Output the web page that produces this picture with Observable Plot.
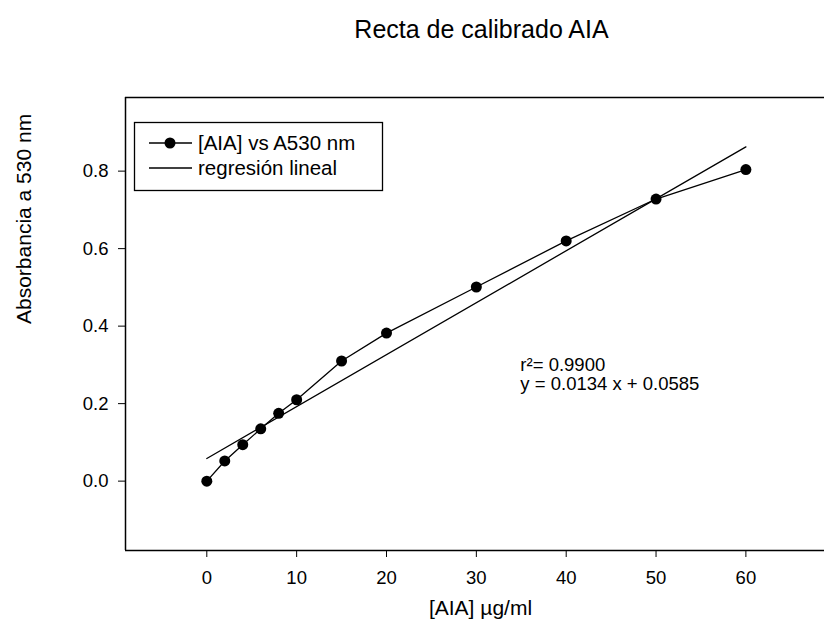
<!DOCTYPE html>
<html>
<head>
<meta charset="utf-8">
<script src="https://cdn.jsdelivr.net/npm/d3@7"></script>
<script src="https://cdn.jsdelivr.net/npm/@observablehq/plot@0.6"></script>
<style>
  html, body { margin: 0; padding: 0; background: white; }
  #chart { position: relative; width: 824px; height: 628px; }
</style>
</head>
<body>
<div id="chart"></div>
<script>
// ---- data ----
const concentration = [0, 2, 4, 6, 8, 10, 15, 20, 30, 40, 50, 60];
const absorbance = [0.0, 0.052, 0.094, 0.135, 0.175, 0.21, 0.31, 0.382, 0.501, 0.62, 0.728, 0.804];
const regX = [0, 60];
const regY = [0.0585, 0.8625];
const xTicks = [0, 10, 20, 30, 40, 50, 60];
const yTicks = [0.0, 0.2, 0.4, 0.6, 0.8];
const xDomain = [-9.05, 68.75];
const yDomain = [-0.179, 0.99];
const titleText = "Recta de calibrado AIA";
const xLabel = "[AIA] µg/ml";
const yLabel = "Absorbancia a 530 nm";
const legendLabels = ["[AIA] vs A530 nm", "regresión lineal"];
const annotLines = ["r²= 0.9900", "y = 0.0134 x + 0.0585"];
const annotX = 34.9;
const annotY = [0.300, 0.250];

const points = concentration.map((c, i) => ({x: c, y: absorbance[i]}));
const reg = regX.map((c, i) => ({x: c, y: regY[i]}));
const font = "'Liberation Sans', Arial, Helvetica, sans-serif";

const plot = Plot.plot({
  width: 824,
  height: 628,
  marginTop: 97,
  marginLeft: 125,
  marginRight: 0,
  marginBottom: 78,
  style: {fontFamily: font, fontSize: "18px", color: "black", background: "white", overflow: "visible"},
  x: {domain: xDomain, axis: null},
  y: {domain: yDomain, axis: null},
  marks: [
    // frame (left, bottom, top)
    Plot.ruleX([xDomain[0]], {stroke: "black", strokeWidth: 1.5}),
    Plot.ruleY([yDomain[0]], {stroke: "black", strokeWidth: 1.5}),
    Plot.ruleY([yDomain[1]], {stroke: "black", strokeWidth: 1.5}),
    Plot.axisX(xTicks, {tickSize: 7, tickPadding: 13, label: null, fontSize: 18.5, stroke: "black", fill: "black"}),
    Plot.axisY(yTicks, {tickSize: 7, tickPadding: 10, label: null, fontSize: 18.5, tickFormat: d3.format(".1f"), stroke: "black", fill: "black"}),
    // regression line
    Plot.line(reg, {x: "x", y: "y", stroke: "black", strokeWidth: 1.3}),
    // data
    Plot.line(points, {x: "x", y: "y", stroke: "black", strokeWidth: 1.3}),
    Plot.dot(points, {x: "x", y: "y", r: 5.5, fill: "black", stroke: "none"}),
    // annotation
    Plot.text([annotLines[0]], {x: annotX, y: annotY[0], text: d => d, textAnchor: "start", fontSize: 18.5, fill: "black"}),
    Plot.text([annotLines[1]], {x: annotX, y: annotY[1], text: d => d, textAnchor: "start", fontSize: 18.5, fill: "black"}),
    // title
    Plot.text([titleText], {frameAnchor: "top", dx: 6.5, dy: -77, text: d => d, fontSize: 25, fill: "black"}),
    // axis labels
    Plot.text([xLabel], {frameAnchor: "bottom", dx: 5.5, dy: 64, text: d => d, fontSize: 21, fill: "black"}),
    Plot.text([yLabel], {frameAnchor: "left", dx: -101, rotate: -90, text: d => d, fontSize: 21, fill: "black"})
  ]
});

document.getElementById("chart").appendChild(plot);

// legend box inside the plot area
const svg = d3.select(plot);
const lg = svg.append("g").attr("transform", "translate(134,122)")
  .attr("text-anchor", "start")
  .style("font-family", font).style("font-size", "20.5px");
lg.append("rect").attr("x", 0.5).attr("y", 0.5).attr("width", 248).attr("height", 68)
  .attr("fill", "white").attr("stroke", "black").attr("stroke-width", 1.3);
legendLabels.forEach((lab, i) => {
  const yy = 21 + i * 25;
  lg.append("line").attr("x1", 15).attr("x2", 58).attr("y1", yy).attr("y2", yy)
    .attr("stroke", "black").attr("stroke-width", 1.3);
  if (i === 0) lg.append("circle").attr("cx", 36).attr("cy", yy).attr("r", 5.5).attr("fill", "black");
  lg.append("text").attr("x", 64).attr("y", yy).attr("dy", "0.35em")
    .attr("text-anchor", "start").attr("fill", "black").text(lab);
});
</script>
</body>
</html>
